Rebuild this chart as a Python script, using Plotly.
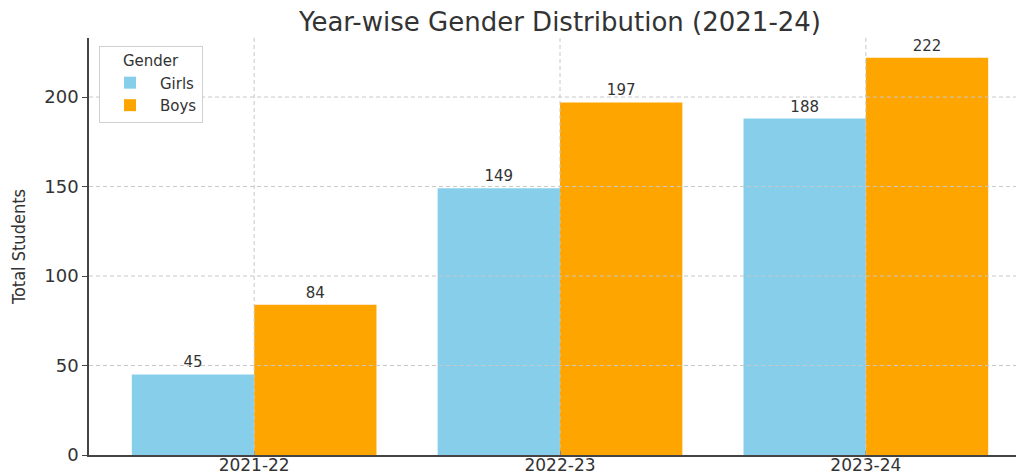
import plotly.graph_objects as go

years = ["2021-22", "2022-23", "2023-24"]
girls = [45, 149, 188]
boys = [84, 197, 222]
y_ticks = [0, 50, 100, 150, 200]

FONT = "DejaVu Sans"
TXT = "#333333"
GRID = "#c8c8c8"

fig = go.Figure()
fig.add_trace(go.Bar(name="Girls", x=years, y=girls, marker_color="#87CEEB",
                     marker_line_width=0, text=girls, textposition="outside",
                     textfont=dict(size=15, color=TXT, family=FONT), cliponaxis=False))
fig.add_trace(go.Bar(name="Boys", x=years, y=boys, marker_color="#FFA500",
                     marker_line_width=0, text=boys, textposition="outside",
                     textfont=dict(size=15, color=TXT, family=FONT), cliponaxis=False))

shapes = []
for v in y_ticks[1:]:
    shapes.append(dict(type="line", xref="paper", x0=0, x1=1, yref="y", y0=v, y1=v,
                       line=dict(color=GRID, width=1, dash="4px,3px"), layer="above"))
for i, _ in enumerate(years):
    shapes.append(dict(type="line", xref="x", x0=i, x1=i, yref="paper", y0=0, y1=1,
                       line=dict(color=GRID, width=1, dash="4px,3px"), layer="above"))

fig.update_layout(
    width=1024, height=476,
    margin=dict(l=81, r=1, t=30, b=29, autoexpand=False),
    paper_bgcolor="white", plot_bgcolor="white",
    barmode="group", bargap=0.2, bargroupgap=0,
    font=dict(family=FONT, color=TXT, size=15),
    title=dict(text="Year-wise Gender Distribution (2021-24)", x=0.5, xref="paper",
               xanchor="center", y=0.971, yref="container", yanchor="middle",
               font=dict(size=26, color=TXT, family=FONT)),
    xaxis=dict(range=[-0.54, 2.54], showline=True, linecolor="#444444", linewidth=1.5,
               ticks="inside", ticklen=4, tickcolor="#444444", showgrid=False,
               tickfont=dict(size=17, color=TXT), zeroline=False, automargin=False,
               ticklabelstandoff=-6),
    yaxis=dict(range=[0, 233], tickvals=y_ticks, showline=True, linecolor="#444444",
               linewidth=1.5, ticks="outside", ticklen=5, tickcolor="#444444",
               showgrid=False, zeroline=False, tickfont=dict(size=18, color=TXT),
               automargin=False,
               title=dict(text="Total Students", standoff=15,
                          font=dict(size=18, color=TXT, family="Liberation Sans Narrow, DejaVu Sans Condensed, Liberation Sans"))),
    legend=dict(x=0.0106, y=0.981, xanchor="left", yanchor="top",
                bordercolor="#d0d0d0", borderwidth=1, bgcolor="white",
                title=dict(text="Gender", side="top center", font=dict(size=15, color=TXT)),
                font=dict(size=15, color=TXT), tracegroupgap=0, itemwidth=50),
    shapes=shapes,
)

fig.write_html("out.html")
